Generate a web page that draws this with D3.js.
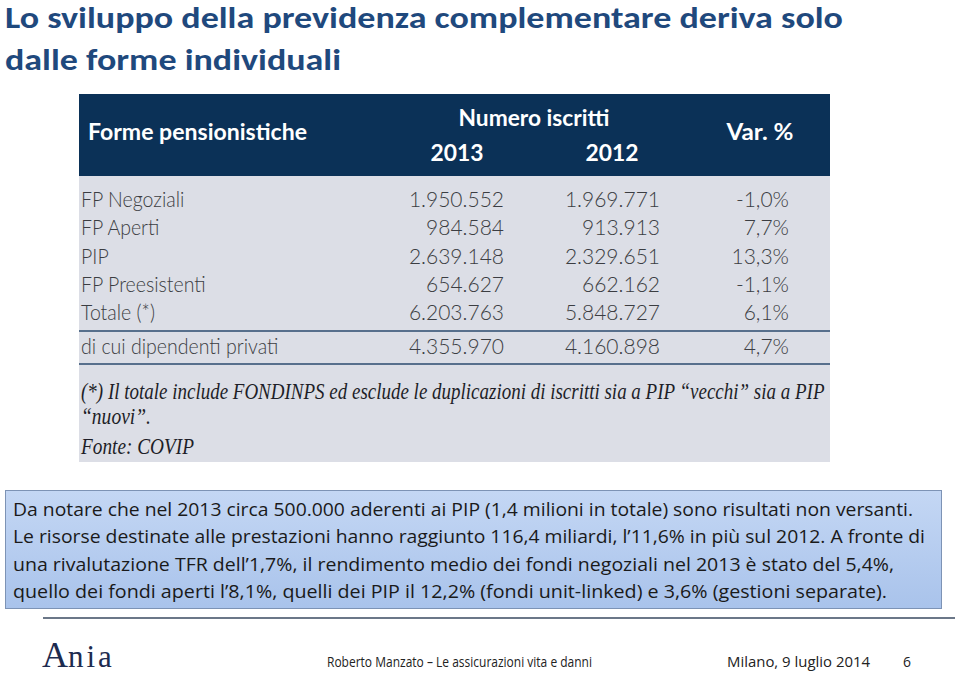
<!DOCTYPE html>
<html><head><meta charset="utf-8">
<script src="https://cdn.jsdelivr.net/npm/d3@7"></script>
<style>
html,body{margin:0;padding:0;background:#fff;}
svg{display:block;}
</style></head>
<body>
<svg id="c" width="960" height="674"></svg>
<script>
// ---- data ----
const titleLines = ["Lo sviluppo della previdenza complementare deriva solo", "dalle forme individuali"];
const headerLabels = ["Forme pensionistiche", "Numero iscritti", "2013", "2012", "Var. %"];
const categories = ["FP Negoziali", "FP Aperti", "PIP", "FP Preesistenti", "Totale (*)"];
const values2013 = [1950552, 984584, 2639148, 654627, 6203763];
const values2012 = [1969771, 913913, 2329651, 662162, 5848727];
const varPct = [-1.0, 7.7, 13.3, -1.1, 6.1];
const subCategory = ["di cui dipendenti privati"];
const sub2013 = [4355970];
const sub2012 = [4160898];
const subVar = [4.7];
const footnoteLines = ["(*) Il totale include FONDINPS ed esclude le duplicazioni di iscritti sia a PIP \u201cvecchi\u201d sia a PIP", "\u201cnuovi\u201d.", "Fonte: COVIP"];
const noteLines = [
 "Da notare che nel 2013 circa 500.000 aderenti ai PIP (1,4 milioni in totale) sono risultati non versanti.",
 "Le risorse destinate alle prestazioni hanno raggiunto 116,4 miliardi, l\u201911,6% in pi\u00f9 sul 2012. A fronte di",
 "una rivalutazione TFR dell\u20191,7%, il rendimento medio dei fondi negoziali nel 2013 \u00e8 stato del 5,4%,",
 "quello dei fondi aperti l\u20198,1%, quelli dei PIP il 12,2% (fondi unit-linked) e 3,6% (gestioni separate)."
];
const footerTexts = ["Roberto Manzato \u2013 Le assicurazioni vita e danni", "Milano, 9 luglio 2014", "6"];

// ---- formatting ----
const itLocale = d3.formatLocale({decimal: ",", thousands: ".", grouping: [3], currency: ["", "€"], minus: "-"});
const fmtInt = itLocale.format(",d");
const fmtPct = v => itLocale.format(".1f")(v) + "%";

const svg = d3.select("#c");
const defs = svg.append("defs");

// ---- title ----
const titleFont = "Carlito, Calibri, 'Open Sans', 'Liberation Sans', sans-serif";
const titleY = d3.scalePoint().domain(d3.range(titleLines.length)).range([28, 70]);
const titleW = [838, 336];
svg.selectAll("text.title").data(titleLines).join("text")
  .attr("class","title")
  .attr("x", 5).attr("y", (d,i)=>titleY(i))
  .attr("textLength", (d,i)=>titleW[i]).attr("lengthAdjust","spacingAndGlyphs")
  .style("font-family", titleFont).style("font-weight","bold").style("font-size","30px")
  .style("fill","#1f497d").text(d=>d);

// ---- table image ----
const T = {x0:79, x1:830, y0:94, y1:462, hdr:176};
const tg = svg.append("g");
tg.append("rect").attr("x",T.x0).attr("y",T.y0).attr("width",T.x1-T.x0).attr("height",T.y1-T.y0).attr("fill","#dcdee6");
tg.append("rect").attr("x",T.x0).attr("y",T.y0).attr("width",T.x1-T.x0).attr("height",T.hdr-T.y0).attr("fill","#0b3157");

const tFont = "'Lato', 'Open Sans', 'DejaVu Sans', sans-serif";
const hdrPos = [
  {x:88, y:140, a:"start", w:219},
  {x:534, y:126, a:"middle", w:151},
  {x:457, y:161, a:"middle", w:53},
  {x:612, y:161, a:"middle", w:53},
  {x:760, y:140, a:"middle", w:67}
];
tg.selectAll("text.hdr").data(headerLabels).join("text")
  .attr("class","hdr")
  .attr("x",(d,i)=>hdrPos[i].x).attr("y",(d,i)=>hdrPos[i].y)
  .attr("text-anchor",(d,i)=>hdrPos[i].a)
  .attr("textLength",(d,i)=>hdrPos[i].w).attr("lengthAdjust","spacingAndGlyphs")
  .style("font-family",tFont).style("font-weight","bold").style("font-size","22px")
  .style("fill","#ffffff").text(d=>d);

// rows
const rows = categories.map((c,i)=>({label:c, v13:values2013[i], v12:values2012[i], vp:varPct[i]}));
const subRows = subCategory.map((c,i)=>({label:c, v13:sub2013[i], v12:sub2012[i], vp:subVar[i]}));
const yRow = d3.scalePoint().domain(categories).range([207, 320]);
const ySub = d3.scalePoint().domain(subCategory).range([354, 354]);
const colX = {label:81, v13:504, v12:660, vp:789};
const bodyColor = "#3b3d42";

function condense(sel, k){
  sel.each(function(){
    const w = this.getComputedTextLength();
    d3.select(this).attr("textLength", w*k).attr("lengthAdjust","spacingAndGlyphs");
  });
}
function drawRows(data, yScale){
  const g = tg.append("g");
  const r = g.selectAll("g").data(data).join("g").attr("transform", d=>`translate(0,${yScale(d.label)})`);
  r.append("text").attr("class","lbl").attr("x",colX.label).text(d=>d.label);
  r.append("text").attr("x",colX.v13).attr("text-anchor","end").text(d=>fmtInt(d.v13));
  r.append("text").attr("x",colX.v12).attr("text-anchor","end").text(d=>fmtInt(d.v12));
  r.append("text").attr("x",colX.vp).attr("text-anchor","end").text(d=>fmtPct(d.vp));
  r.selectAll("text").style("font-family",tFont).style("font-weight","300").style("font-size","21px").style("fill",bodyColor);
  r.selectAll("text.lbl").call(condense, 0.93);
}
drawRows(rows, yRow);
drawRows(subRows, ySub);
// divider lines
tg.selectAll("line.div").data([331, 364]).join("line")
  .attr("x1",T.x0).attr("x2",T.x1).attr("y1",d=>d).attr("y2",d=>d)
  .attr("stroke","#2b4a6e").attr("stroke-width",1.5);

// footnote (horizontally condensed via transform so the real box matches the drawn width)
const fnPos = [{y:399, w:744}, {y:424, w:70}, {y:454, w:113}];
tg.selectAll("text.fn").data(footnoteLines).join("text")
  .attr("class","fn")
  .attr("x",0).attr("y",0)
  .style("font-family","'Liberation Serif','DejaVu Serif',serif").style("font-style","italic")
  .style("font-size","23px").style("fill","#1e1e28").text(d=>d)
  .each(function(d,i){
    const nat = this.getComputedTextLength();
    const k = fnPos[i].w / nat;
    d3.select(this).attr("transform", `translate(81,${fnPos[i].y}) scale(${k},1)`);
  });

// ---- note box ----
const grad = defs.append("linearGradient").attr("id","nb").attr("x1",0).attr("y1",0).attr("x2",0).attr("y2",1);
grad.append("stop").attr("offset","0%").attr("stop-color","#c4d7f4");
grad.append("stop").attr("offset","100%").attr("stop-color","#a9c3eb");
svg.append("rect").attr("x",5.5).attr("y",490.5).attr("width",936).attr("height",118)
  .attr("fill","url(#nb)").attr("stroke","#7d93b5").attr("stroke-width",1);
const noteY = d3.scalePoint().domain(d3.range(noteLines.length)).range([516, 598]);
const noteW = [900, 912, 881, 874];
svg.selectAll("text.note").data(noteLines).join("text")
  .attr("class","note")
  .attr("x",13).attr("y",(d,i)=>noteY(i))
  .attr("textLength",(d,i)=>noteW[i]).attr("lengthAdjust","spacingAndGlyphs")
  .style("font-family","'Open Sans','Liberation Sans',sans-serif").style("font-size","18.5px")
  .style("fill","#1a1a1a").text(d=>d);

// ---- footer ----
svg.append("line").attr("x1",43).attr("x2",955).attr("y1",618).attr("y2",618)
  .attr("stroke","#3a4a60").attr("stroke-width",1.5);
const logo = svg.append("text").attr("x",42).attr("y",667)
  .style("font-family","'Liberation Serif','DejaVu Serif',serif").style("fill","#1d2b4f");
logo.append("tspan").style("font-size","36px").text("A");
logo.append("tspan").attr("dx",0).style("font-size","31px").style("letter-spacing","3px").text("nia");

const footPos = [{x:327, w:265}, {x:727, w:143}, {x:903, w:8}];
svg.selectAll("text.foot").data(footerTexts).join("text")
  .attr("class","foot")
  .attr("x",(d,i)=>footPos[i].x).attr("y",667)
  .attr("textLength",(d,i)=>footPos[i].w).attr("lengthAdjust","spacingAndGlyphs")
  .style("font-family","'Open Sans','Liberation Sans',sans-serif").style("font-size","14px")
  .style("fill","#222").text(d=>d);
</script>
</body></html>
